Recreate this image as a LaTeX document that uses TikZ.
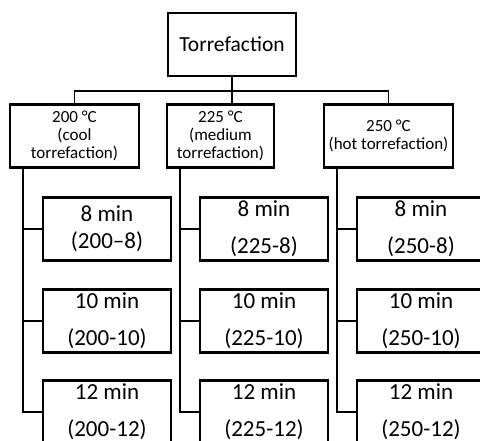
\documentclass[tikz,border=0pt]{standalone}
\usepackage{fontspec}
\setmainfont{Carlito}

\tikzset{
	box/.style={draw, line width=2.8pt, inner sep=0pt, align=center},
	topbox/.style={box, minimum width=128pt, minimum height=63pt, font=\fontsize{21.5}{26}\selectfont},
	tempbox/.style={box, minimum height=63pt, font=\fontsize{17}{18}\selectfont},
	timebox/.style={box, minimum width=128pt, minimum height=63pt, font=\fontsize{23}{37}\selectfont},
	link/.style={line width=1.9pt},
	trunk/.style={line width=2.8pt}
}

\begin{document}
\begin{tikzpicture}[x=1pt, y=-1pt]
	\useasboundingbox (0,0) rectangle (480,441);
	\clip (0,0) rectangle (480,441);
	% top level
	\node[topbox] (torr) at (232,44.5) {Torrefaction};
	% temperatures
	\node[tempbox, minimum width=129pt] (t200) at (74.5,136) {200 °C\\(cool\\torrefaction)};
	\node[tempbox, minimum width=107pt] (t225) at (220.5,136) {225 °C\\(medium\\torrefaction)};
	\node[tempbox, minimum width=129pt] (t250) at (388.5,136) {250 °C\\(hot torrefaction)};
	% residence times
	\node[timebox, font=\fontsize{23}{27}\selectfont] (m200a) at (107,229) {8 min\\(200--8)};
	\node[timebox] (m200b) at (107,321) {10 min\\(200-10)};
	\node[timebox] (m200c) at (107,412) {12 min\\(200-12)};
	\node[timebox] (m225a) at (264,229) {8 min\\(225-8)};
	\node[timebox] (m225b) at (264,321) {10 min\\(225-10)};
	\node[timebox] (m225c) at (264,412) {12 min\\(225-12)};
	\node[timebox] (m250a) at (421,229) {8 min\\(250-8)};
	\node[timebox] (m250b) at (421,321) {10 min\\(250-10)};
	\node[timebox] (m250c) at (421,412) {12 min\\(250-12)};
	% connectors
	\coordinate (bus) at (232,91);
	\draw[trunk] (torr.south) -- (torr.south |- t225.north);
	\draw[link] (t200.north) |- (bus) -| (t250.north);
	\coordinate (s200) at (23,412);
	\coordinate (s225) at (180,412);
	\coordinate (s250) at (337,412);
	\draw[link] (t200.south -| s200) -- (s200) -- (m200c.west |- s200);
	\draw[link] (s200 |- m200a.west) -- (m200a.west);
	\draw[link] (s200 |- m200b.west) -- (m200b.west);
	\draw[link] (t225.south -| s225) -- (s225) -- (m225c.west |- s225);
	\draw[link] (s225 |- m225a.west) -- (m225a.west);
	\draw[link] (s225 |- m225b.west) -- (m225b.west);
	\draw[link] (t250.south -| s250) -- (s250) -- (m250c.west |- s250);
	\draw[link] (s250 |- m250a.west) -- (m250a.west);
	\draw[link] (s250 |- m250b.west) -- (m250b.west);
\end{tikzpicture}
\end{document}
